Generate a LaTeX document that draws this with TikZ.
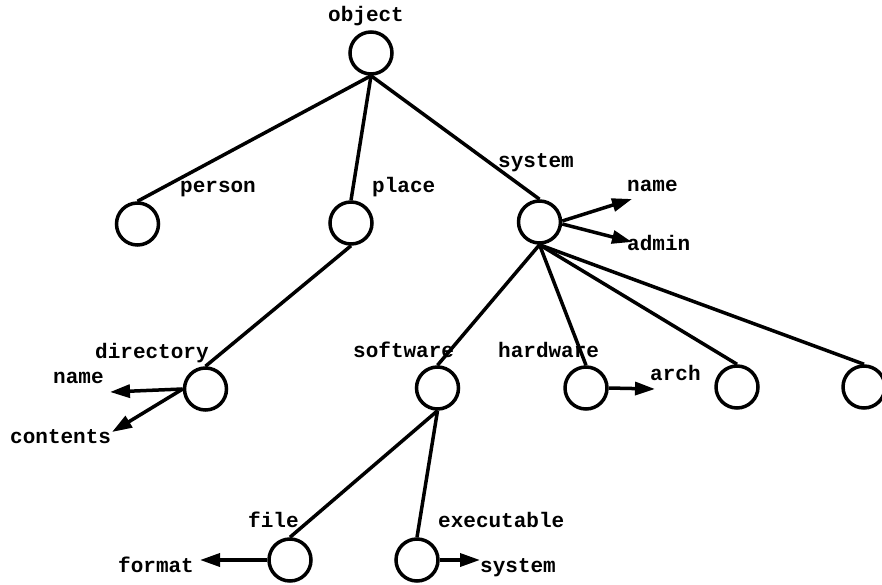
\documentclass[tikz,border=0pt]{standalone}
\usepackage{fontspec}
\setmonofont{Liberation Mono}
\usetikzlibrary{arrows.meta}
\tikzset{
  obj/.style={circle, draw, line width=3.5pt, minimum size=42pt, inner sep=0pt},
  lbl/.style={font=\ttfamily\bfseries\fontsize{21}{24}\selectfont, inner sep=0pt, anchor=base west},
  edge/.style={line width=3.5pt},
  attr/.style={line width=3.5pt, -{Triangle[length=20pt,width=13pt]}},
}
\begin{document}
\begin{tikzpicture}[x=1pt,y=-1pt]
\useasboundingbox (0,0) rectangle (882,585);
\begin{scope}
\clip (0,0) rectangle (882,585);
% objects
\node[obj] (object) at (371,53) {};
\node[obj] (person) at (137.5,224) {};
\node[obj] (place) at (351,223) {};
\node[obj] (system) at (539.5,222) {};
\node[obj] (directory) at (205.5,389) {};
\node[obj] (software) at (437.5,388) {};
\node[obj] (hardware) at (586,388) {};
\node[obj] (u1) at (737,387) {};
\node[obj] (u2) at (864,387) {};
\node[obj] (file) at (290,560) {};
\node[obj] (executable) at (417,560) {};
% attribute end points
\coordinate (sname) at (632,199);
\coordinate (sadmin) at (632,242);
\coordinate (dname) at (110,392);
\coordinate (dcont) at (112,432);
\coordinate (harch) at (655,389);
\coordinate (fformat) at (200,560);
\coordinate (esys) at (480,560);
% tree edges
\draw[edge] (object.south) -- (person.north);
\draw[edge] (object.south) -- (place.north);
\draw[edge] (object.south) -- (system.north);
\draw[edge] (place.south) -- (directory.north);
\draw[edge] (system.south) -- (software.north);
\draw[edge] (system.south) -- (hardware.north);
\draw[edge] (system.south) -- (u1.north);
\draw[edge] (system.south) -- (u2.north);
\draw[edge] (software.south) -- (file.north);
\draw[edge] (software.south) -- (executable.north);
% attribute arrows
\draw[attr] (system.east) ++(0,-1) -- (sname);
\draw[attr] (system.east) ++(0,2) -- (sadmin);
\draw[attr] (directory.west) -- (dname);
\draw[attr] (directory.west) -- (dcont);
\draw[attr] (hardware.east) -- (harch);
\draw[attr] (file.west) -- (fformat);
\draw[attr] (executable.east) -- (esys);
\end{scope}
% labels
\node[lbl] (t-object) at (328,22) {object};
\node[lbl] (t-person) at (180,193) {person};
\node[lbl] (t-place) at (372,193) {place};
\node[lbl] (t-system) at (498,168) {system};
\node[lbl] (t-sname) at (627,192) {name};
\node[lbl] (t-sadmin) at (627,250) {admin};
\node[lbl] (t-directory) at (95,358) {directory};
\node[lbl] (t-dname) at (53,383) {name};
\node[lbl] (t-dcont) at (10,443) {contents};
\node[lbl] (t-software) at (353,357) {software};
\node[lbl] (t-hardware) at (498,357) {hardware};
\node[lbl] (t-arch) at (650,380) {arch};
\node[lbl] (t-file) at (248,527) {file};
\node[lbl] (t-format) at (118,572) {format};
\node[lbl] (t-executable) at (438,527) {executable};
\node[lbl] (t-esys) at (480,572) {system};
\end{tikzpicture}
\end{document}
